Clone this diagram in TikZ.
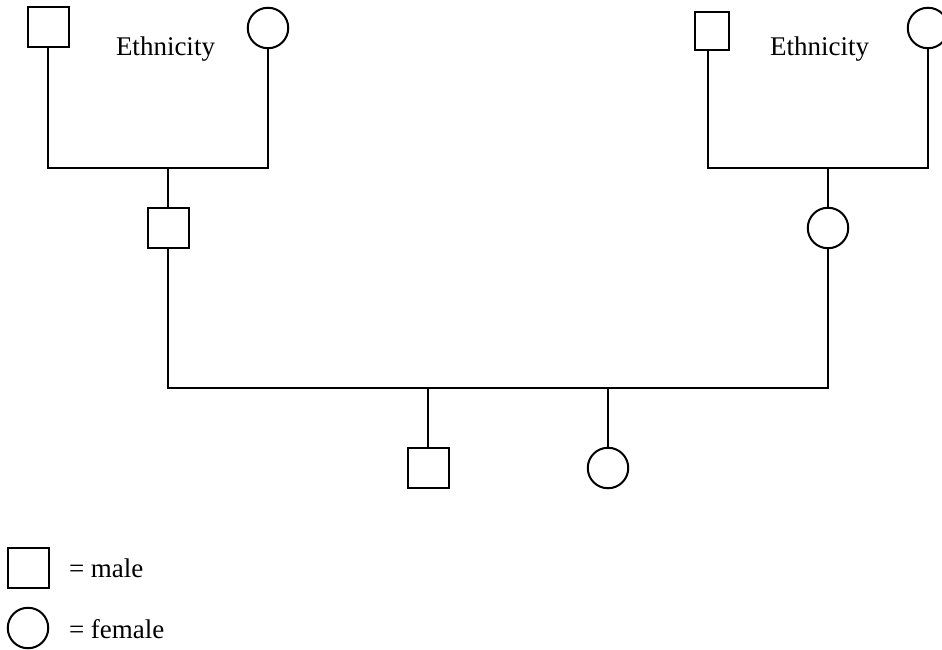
\documentclass[tikz,border=0pt]{standalone}
\usepackage{fontspec}
\setmainfont{Liberation Serif}
\begin{document}
\begin{tikzpicture}[x=1pt,y=-1pt,
  line width=2pt, line join=miter,
  male/.style={draw, rectangle, minimum width=41pt, minimum height=40pt, inner sep=0pt, outer sep=0pt},
  female/.style={draw, circle, minimum size=40.5pt, inner sep=0pt, outer sep=0pt},
  lbl/.style={font=\fontsize{27}{30}\selectfont, inner sep=0pt, anchor=base west}]
\useasboundingbox (0,0) rectangle (942,650);
% top left family
\node[male] (gf1) at (48,27) {};
\node[female] (gm1) at (268,28) {};
\node[lbl] (eth1) at (115,56) {Ethnicity};
\coordinate (j1) at (168,168);
\node[male] (f) at (168,228) {};
\draw (gf1.south) -- (gf1.south |- j1) -- (gm1.south |- j1) -- (gm1.south);
\draw (j1) -- (f.north);
% top right family
\node[male, minimum width=34pt, minimum height=38pt] (gf2) at (712,31) {};
\node[female] (gm2) at (928,28) {};
\node[lbl] (eth2) at (769,56) {Ethnicity};
\coordinate (j2) at (828,168);
\coordinate (gf2s) at (708,50);
\node[female] (m) at (828,228) {};
\draw (gf2s) -- (gf2s |- j2) -- (gm2.south |- j2) -- (gm2.south);
\draw (j2) -- (m.north);
% children
\node[male] (s) at (428,468) {};
\node[female] (d) at (608,468) {};
\coordinate (j3) at (428,388);
\coordinate (j4) at (608,388);
\draw (f.south) -- (f.south |- j3) -- (m.south |- j3) -- (m.south);
\draw (j3) -- (s.north);
\draw (j4) -- (d.north);
% legend
\node[male] (lm) at (28,568) {};
\node[female] (lf) at (28,628) {};
\node[lbl] (tm) at (68,577) {= male};
\node[lbl] (tf) at (68,638) {= female};
\end{tikzpicture}
\end{document}
